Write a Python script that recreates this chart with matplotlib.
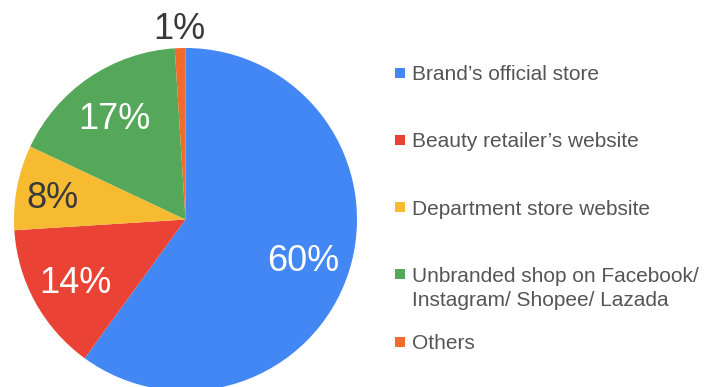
import matplotlib
matplotlib.use("Agg")
import matplotlib.pyplot as plt
from matplotlib.patches import Rectangle
import numpy as np

plt.rcParams['font.family'] = ['Liberation Sans', 'DejaVu Sans']

categories = [
    "Brand\u2019s official store",
    "Beauty retailer\u2019s website",
    "Department store website",
    "Unbranded shop on Facebook/\nInstagram/ Shopee/ Lazada",
    "Others",
]
shares = [60, 14, 8, 17, 1]
colors = ["#4387F4", "#EA4335", "#F6BB30", "#55A85A", "#F06B2C"]
label_colors = ["white", "white", "#3a3a3a", "white", "#3a3a3a"]
label_dist = [0.72, 0.73, 0.79, 0.735, 1.13]

W, H = 705, 387
fig = plt.figure(figsize=(W / 100, H / 100), dpi=100)

# pie centred at (185.5, 219.5) px with radius 171.5 px
cx, cy, r = 185.5, 219.5, 171.5
ax = fig.add_axes([(cx - r) / W, (H - cy - r) / H, 2 * r / W, 2 * r / H])
wedges, _ = ax.pie(shares, colors=colors, startangle=90, counterclock=False,
                   radius=1.0, wedgeprops=dict(linewidth=0))
ax.set_xlim(-1, 1)
ax.set_ylim(-1, 1)
ax.axis('off')
for w in wedges:
    w.set_clip_on(False)

for w, v, c, d in zip(wedges, shares, label_colors, label_dist):
    mid = np.deg2rad((w.theta1 + w.theta2) / 2)
    ax.text(d * np.cos(mid), d * np.sin(mid), f"{v}%", color=c,
            fontsize=26, ha='center', va='center_baseline', clip_on=False)

# legend: one square per entry, label lines stacked under the first line
row0, step, line_h = 72.7, 67.2, 24.0
text_x = 411.7
sq_x, sq = 395.0, 10.0
for i, (lab, col) in enumerate(zip(categories, colors)):
    yc = row0 + i * step
    fig.add_artist(Rectangle((sq_x / W, (H - yc - sq / 2) / H), sq / W, sq / H,
                             transform=fig.transFigure, facecolor=col,
                             edgecolor='none'))
    for k, line in enumerate(lab.split("\n")):
        fig.text(text_x / W, (H - yc - 7.5 - k * line_h) / H, line,
                 fontsize=15, color="#555555", ha='left', va='baseline')

fig.savefig("out.png", dpi=100, facecolor='white')
